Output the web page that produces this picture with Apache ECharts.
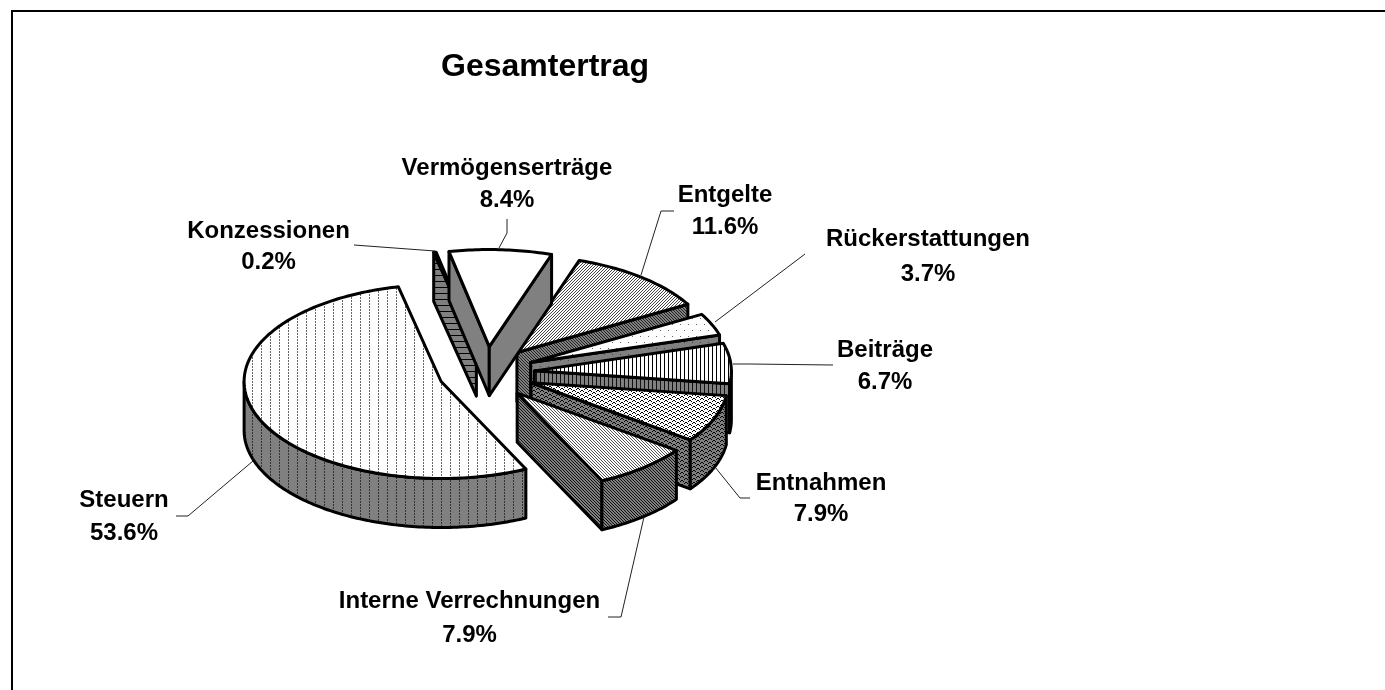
<!DOCTYPE html>
<html><head><meta charset="utf-8">
<script src="https://cdn.jsdelivr.net/npm/echarts@6/dist/echarts.min.js"></script>
<style>html,body{margin:0;padding:0;background:#fff}#c{width:1385px;height:690px}</style>
</head><body><div id="c"></div>
<script>
// Data, clockwise from the top of the pie
var categories = ['Vermögenserträge','Entgelte','Rückerstattungen','Beiträge','Entnahmen','Interne Verrechnungen','Steuern','Konzessionen'];
var shares = [8.4,11.6,3.7,6.7,7.9,7.9,53.6,0.2];
var titleText = 'Gesamtertrag';

// Styles and layout, kept apart from the data
var drawOrder = [1,2,3,4,5,6,7,0];
var pie = {cx:486.5, cy:372.9, rx:197, ry:97, depth:49, explodeX:48, explodeY:26.4, startDeg:-11.8};
var labelX  = [507,725,928,885,821,469.5,124,268.5];
var labelY1 = [168,195,239,350,483,601,500,231];
var labelY2 = [200,227,274,382,514,635,533,262];
var leaders = [
  [[507,219],[507,233],[499,248]],
  [[674,211],[661,211],[641,275]],
  [[805,254],[715,322]],
  [[833,365],[750,364],[733,364]],
  [[750,498],[740,498],[715,467]],
  [[608,617],[621,617],[644,517]],
  [[176,516],[188,516],[253,461]],
  [[354,245],[435,251]]
];
var tiles = {
  none:['0'],
  fwd:['001','010','100'],
  back:['100','010','001'],
  dots:['10000000','00000000','00000000','00000000','00000000','00000000','00001000','00000000','00000000','00000000','00000000','00000000'],
  vert:['1000'],
  speck:['01100000','10010000','00000110','00001001'],
  dash:['100000000','100000000','000000000'],
  horiz:['0','0','0','0','0','1']
};
var topStyle  = [['none','#fff','#000'],['fwd','#fff','#444'],['dots','#fff','#666'],['vert','#fff','#000'],['speck','#fff','#000'],['back','#fff','#555'],['dash','#fff','#666'],['none','#fff','#000']];
var sideStyle = [['none','#808080','#000'],['back','#808080','#222'],['dots','#808080','#444'],['vert','#808080','#111'],['speck','#808080','#000'],['back','#808080','#111'],['dash','#808080','#333'],['horiz','#808080','#000']];

function makeFill(spec){
  var rows = tiles[spec[0]], h = rows.length, w = rows[0].length;
  var cv = document.createElement('canvas'); cv.width = w; cv.height = h;
  var g = cv.getContext('2d');
  g.fillStyle = spec[1]; g.fillRect(0,0,w,h);
  g.fillStyle = spec[2];
  rows.forEach(function(r,y){ for(var x=0;x<w;x++) if(r[x]==='1') g.fillRect(x,y,1,1); });
  return {image:cv, repeat:'repeat'};
}
var topFills = topStyle.map(makeFill), sideFills = sideStyle.map(makeFill);

var total = shares.reduce(function(a,b){return a+b;},0);
var rad = Math.PI/180;
var ranges = [], acc = pie.startDeg;
shares.forEach(function(v){ var e = acc + v/total*360; ranges.push([acc,e]); acc = e; });

function tipOf(i){
  var m = (ranges[i][0]+ranges[i][1])/2*rad;
  return [pie.cx + pie.explodeX*Math.sin(m), pie.cy - pie.explodeY*Math.cos(m)];
}
function rim(tip,deg,dy){ return [tip[0]+pie.rx*Math.sin(deg*rad), tip[1]-pie.ry*Math.cos(deg*rad)+(dy||0)]; }
function arcPts(tip,a,b,dy){
  var pts=[], n=Math.max(2,Math.ceil(Math.abs(b-a)));
  for(var k=0;k<=n;k++) pts.push(rim(tip,a+(b-a)*k/n,dy));
  return pts;
}
function poly(points,fill,z2){
  return {type:'polygon',z2:z2,shape:{points:points},style:{fill:fill,stroke:'#000',lineWidth:3,lineJoin:'round'}};
}
function cutFace(tip,deg,fill,z2){
  return poly([tip,rim(tip,deg),rim(tip,deg,pie.depth),[tip[0],tip[1]+pie.depth]],fill,z2);
}
function renderSlice(params,api){
  var i = api.value(0), a = ranges[i][0], b = ranges[i][1], tip = tipOf(i), ch = [], z = params.dataIndex*10;
  if(Math.sin(a*rad)<0) ch.push(cutFace(tip,a,sideFills[i],z+1));
  if(Math.sin(b*rad)>0) ch.push(cutFace(tip,b,sideFills[i],z+1));
  var wa = Math.max(a,90), wb = Math.min(b,270);
  if(wb>wa) ch.push(poly(arcPts(tip,wa,wb,0).concat(arcPts(tip,wb,wa,pie.depth)),sideFills[i],z+2));
  ch.push(poly([tip].concat(arcPts(tip,a,b,0)),topFills[i],z+3));
  return {type:'group',children:ch};
}
function renderLabel(params,api){
  var i = api.value(0);
  var font = {fontFamily:'Liberation Sans',fontWeight:'bold',fontSize:24,fill:'#000',align:'center',verticalAlign:'middle'};
  return {type:'group',children:[
    {type:'polyline',shape:{points:leaders[i]},style:{fill:null,stroke:'#222',lineWidth:1}},
    {type:'text',style:Object.assign({text:categories[i],x:labelX[i],y:labelY1[i]},font)},
    {type:'text',style:Object.assign({text:shares[i].toFixed(1)+'%',x:labelX[i],y:labelY2[i]},font)}
  ]};
}
var chart = echarts.init(document.getElementById('c'),null,{renderer:'canvas'});
chart.setOption({
  animation:false,
  backgroundColor:'#fff',
  title:{text:titleText,left:441,top:51,padding:0,textStyle:{fontFamily:'Liberation Sans',fontWeight:'bold',fontSize:32,color:'#000'}},
  tooltip:{show:false},
  graphic:[{type:'polyline',silent:true,shape:{points:[[12,690],[12,11],[1385,11]]},style:{fill:null,stroke:'#000',lineWidth:2}}],
  series:[
    {type:'custom',name:'Gesamtertrag',coordinateSystem:'none',silent:true,renderItem:renderSlice,data:drawOrder.map(function(i){return {value:[i,shares[i]],name:categories[i]};}),z:2},
    {type:'custom',name:'Beschriftung',coordinateSystem:'none',silent:true,renderItem:renderLabel,data:categories.map(function(n,i){return {value:[i,shares[i]],name:n};}),z:3}
  ]
});
</script></body></html>
